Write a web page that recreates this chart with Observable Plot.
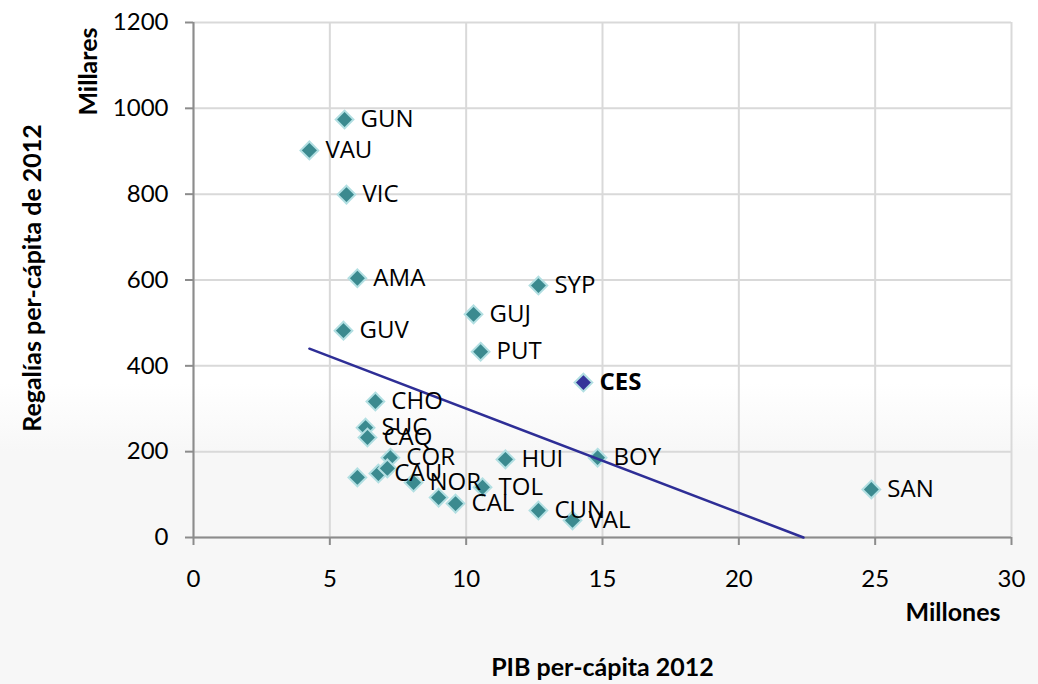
<!DOCTYPE html>
<html>
<head>
<meta charset="utf-8">
<script src="https://cdn.jsdelivr.net/npm/d3@7"></script>
<script src="https://cdn.jsdelivr.net/npm/@observablehq/plot@0.6"></script>
<style>
  html, body { margin: 0; padding: 0; background: #fff; }
  #chart { width: 1038px; height: 684px; background: linear-gradient(to bottom, #ffffff 0%, #ffffff 56%, #f7f7f7 66%, #f7f7f7 100%); }
</style>
</head>
<body>
<div id="chart"></div>
<script>
// Department codes (empty = unlabeled point)
const codes = ["GUN","VAU","VIC","AMA","GUV","SYP","GUJ","PUT","CES","CHO","SUC","CAQ","COR","HUI","BOY","SAN","CAU","NOR","TOL","CAL","CUN","VAL","","",""];
// PIB per-cápita 2012 (millones)
const pib = [5.54,4.25,5.61,6.01,5.50,12.65,10.27,10.53,14.30,6.67,6.31,6.38,7.22,11.44,14.82,24.86,6.78,8.07,10.60,9.61,12.65,13.90,6.01,7.11,8.99];
// Regalías per-cápita 2012 (millares)
const regalias = [974,902,799,604,482,587,520,433,361,317,256,233,186,182,186,112,149,128,117,79,63,40,140,161,93];
// Trend line endpoints (as drawn)
const trendX = [4.25, 22.37];
const trendY = [440, 0];
const xTicks = [0,5,10,15,20,25,30];
const yTicks = [0,200,400,600,800,1000,1200];
const highlight = "CES";

const pts = codes.map((c, i) => ({code: c, x: pib[i], y: regalias[i]}));
const others = pts.filter(d => d.code !== highlight);
const hi = pts.filter(d => d.code === highlight);
const trend = trendX.map((x, i) => ({x, y: trendY[i]}));

const titleFont = {fontWeight: "bold", fontFamily: "Lato, 'Open Sans', sans-serif", fill: "black", lineAnchor: "middle", textAnchor: "middle"};

const chart = Plot.plot({
  width: 1038,
  height: 684,
  marginLeft: 193,
  marginRight: 27,
  marginTop: 22,
  marginBottom: 147,
  style: {background: "transparent", fontFamily: "Lato, 'Open Sans', sans-serif", fontSize: "24px", color: "black"},
  x: {domain: [0, 30]},
  y: {domain: [0, 1200]},
  marks: [
    Plot.gridX(xTicks, {stroke: "#d9d9d9", strokeOpacity: 1, strokeWidth: 2}),
    Plot.gridY(yTicks, {stroke: "#d9d9d9", strokeOpacity: 1, strokeWidth: 2}),
    Plot.axisX(xTicks, {tickSize: 8, tickPadding: 24, tickFormat: d3.format("d"), stroke: "#8c8c8c", strokeWidth: 2, fill: "black", fontSize: 24, label: null}),
    Plot.axisY(yTicks, {tickSize: 8, tickPadding: 17, tickFormat: d3.format("d"), stroke: "#8c8c8c", strokeWidth: 2, fill: "black", fontSize: 24, label: null}),
    Plot.ruleX([0], {stroke: "#8c8c8c", strokeWidth: 2}),
    Plot.ruleY([0], {stroke: "#8c8c8c", strokeWidth: 2}),
    Plot.dot(others, {x: "x", y: "y", symbol: "diamond2", r: 8, fill: "#3b8a8f", stroke: "#b2dfe2", strokeWidth: 2}),
    Plot.dot(hi, {x: "x", y: "y", symbol: "diamond2", r: 8, fill: "#34349a", stroke: "#b2dfe2", strokeWidth: 2}),
    Plot.line(trend, {x: "x", y: "y", stroke: "#2e2e96", strokeWidth: 2.5}),
    Plot.text(others, {x: "x", y: "y", text: "code", textAnchor: "start", dx: 16, fontFamily: "'Open Sans', sans-serif", fontSize: 24, fill: "black"}),
    Plot.text(hi, {x: "x", y: "y", text: "code", textAnchor: "start", dx: 16, fontFamily: "'Open Sans', sans-serif", fontSize: 24, fontWeight: "bold", fill: "black"}),
    Plot.text(["Regalías per-cápita de 2012"], {...titleFont, frameAnchor: "left", text: d => d, rotate: -90, dx: -161, dy: -2, fontSize: 25}),
    Plot.text(["Millares"], {...titleFont, frameAnchor: "top-left", text: d => d, rotate: -90, dx: -105, dy: 49, fontSize: 25}),
    Plot.text(["Millones"], {...titleFont, frameAnchor: "bottom-right", text: d => d, textAnchor: "end", dx: -11, dy: 75, fontSize: 25}),
    Plot.text(["PIB per-cápita 2012"], {...titleFont, frameAnchor: "bottom", text: d => d, dy: 130, fontSize: 25})
  ]
});
document.getElementById("chart").appendChild(chart);
</script>
</body>
</html>
